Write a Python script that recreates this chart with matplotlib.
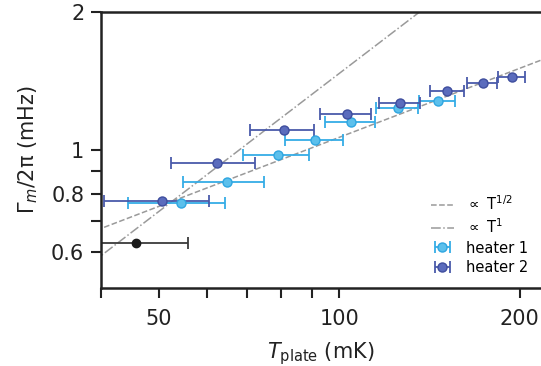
import matplotlib
matplotlib.use("Agg")
import matplotlib.pyplot as plt
import numpy as np

# heater 1 sweep (light blue)
h1_T = [54.4, 64.9, 79.1, 91.2, 104.5, 125.2, 145.8]
h1_G = [0.765, 0.853, 0.975, 1.053, 1.150, 1.234, 1.276]
# heater 2 sweep (dark blue)
h2_T = [50.5, 62.4, 80.8, 102.9, 126.3, 151.4, 173.5, 194.0]
h2_G = [0.773, 0.937, 1.105, 1.201, 1.267, 1.343, 1.402, 1.443]
# base temperature point
base_T = [45.8]
base_G = [0.627]
T_err = 10.0

# power-law guides
A_half = 0.1066
A_one = 0.0147

x_ticks = [40, 50, 60, 70, 80, 90, 100, 200]
x_ticklabels = ["", "50", "", "", "", "", "100", "200"]
y_ticks = [0.6, 0.7, 0.8, 0.9, 1.0, 2.0]
y_ticklabels = ["0.6", "", "0.8", "", "1", "2"]

fig = plt.figure(figsize=(5.41, 3.66), dpi=100)
ax = fig.add_axes([0.1867, 0.2131, 0.8133, 0.7541])

T = np.geomspace(35, 230, 200)
ax.plot(T, A_half * np.sqrt(T), ls="--", color="#9a9a9a", lw=1.1,
        label=r"$\propto$ T$^{1/2}$")
ax.plot(T, A_one * T, ls="-.", color="#9a9a9a", lw=1.1,
        label=r"$\propto$ T$^{1}$")

ax.errorbar(base_T, base_G, xerr=T_err, fmt="o", color="#1a1a1a",
            ecolor="#3a3a3a", ms=6, capsize=4, elinewidth=1.3, capthick=1.3)
ax.errorbar(h1_T, h1_G, xerr=T_err, fmt="o", mfc="#5cc0ec", mec="#2fa6e0",
            ecolor="#35ace6", ms=6.5, capsize=4, elinewidth=1.3, capthick=1.3,
            label="heater 1")
ax.errorbar(h2_T, h2_G, xerr=T_err, fmt="o", mfc="#5b6cbd", mec="#3f4e9e",
            ecolor="#4a5aaa", ms=6.5, capsize=4, elinewidth=1.3, capthick=1.3,
            label="heater 2")

ax.set_xscale("log")
ax.set_yscale("log")
ax.set_xlim(40, 217)
ax.set_ylim(0.5, 2.0)

ax.xaxis.set_minor_locator(matplotlib.ticker.NullLocator())
ax.yaxis.set_minor_locator(matplotlib.ticker.NullLocator())
ax.set_xticks(x_ticks)
ax.set_xticklabels(x_ticklabels)
ax.set_yticks(y_ticks)
ax.set_yticklabels(y_ticklabels)
ax.tick_params(labelsize=15, length=7, width=1.5, color="#222222",
               labelcolor="#222222", pad=5)
ax.tick_params(axis="x", pad=8)

for side in ["left", "bottom", "top"]:
    ax.spines[side].set_linewidth(1.8)
    ax.spines[side].set_color("#222222")
ax.spines["right"].set_visible(False)

ax.set_xlabel(r"$T_\mathrm{plate}$ (mK)", fontsize=15, color="#222222",
              labelpad=8)
ax.set_ylabel(r"Γ$_m$/2π (mHz)", fontsize=15, color="#222222", labelpad=8)

ax.legend(loc="lower right", frameon=False, fontsize=10.5,
          handlelength=1.6, labelspacing=0.3, bbox_to_anchor=(1.0, 0.0))

fig.savefig("out.png", dpi=100)
